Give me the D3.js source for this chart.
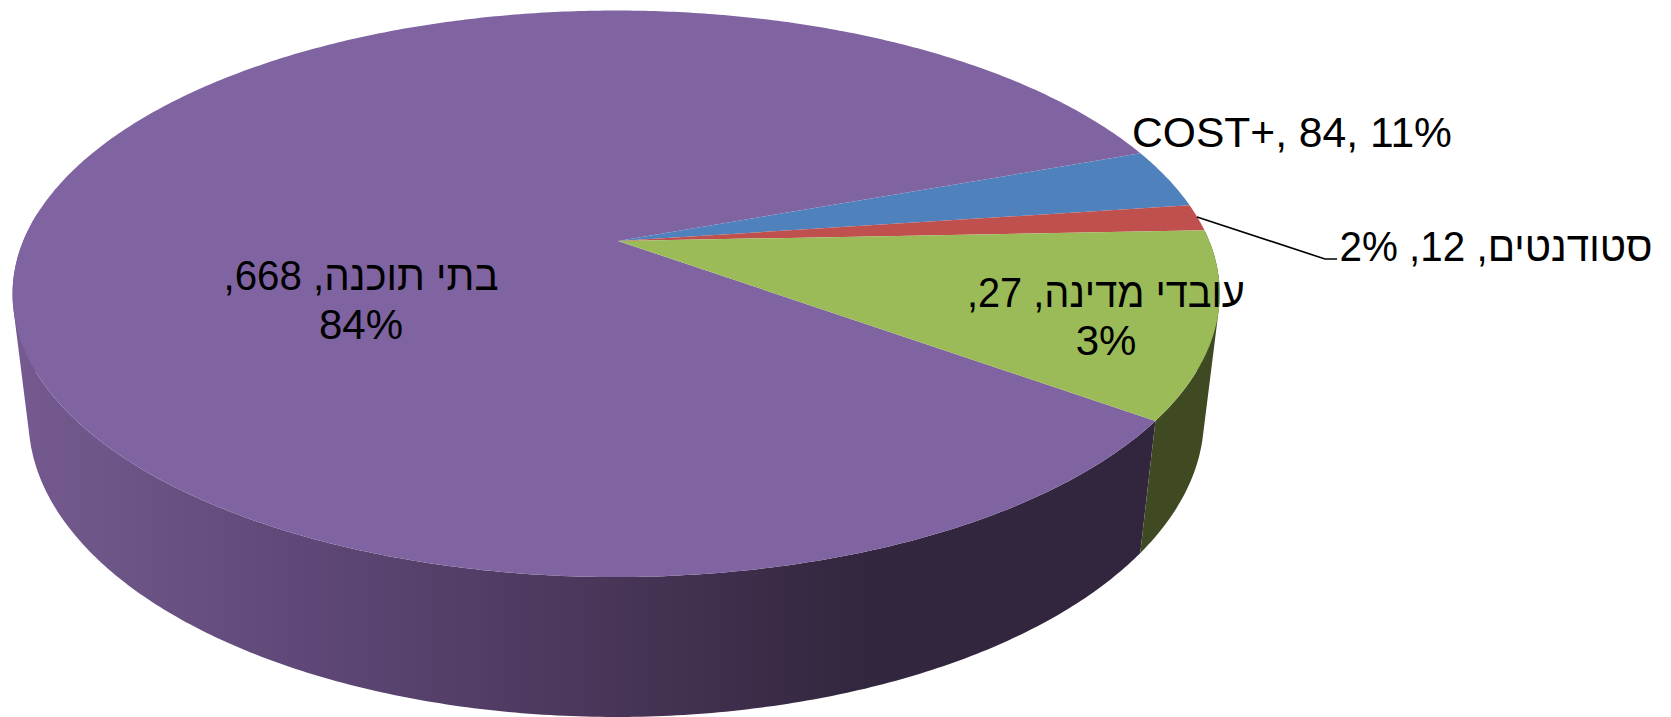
<!DOCTYPE html>
<html>
<head>
<meta charset="utf-8">
<script src="https://cdn.jsdelivr.net/npm/d3@7"></script>
<style>
  html, body { margin: 0; padding: 0; background: #fff; overflow: hidden; }
  text { font-family: "Liberation Sans", Arial, sans-serif; font-size: 42px; fill: #000; }
</style>
</head>
<body>
<script>
// Chart data. The printed labels do not follow the size of the slices in the source,
// so the slice sizes and the printed numbers are kept apart.
var categories = ["COST+", "סטודנטים", "עובדי מדינה", "בתי תוכנה"];
var sliceValues = [27, 12, 84, 668];
var labelValues = [84, 12, 27, 668];
var labelPercents = ["11%", "2%", "3%", "84%"];

var svgWidth = 1671;
var svgHeight = 717;

var topColors = ["#4F81BD", "#C0504D", "#9BBB59", "#8064A2"];
var sideColors = ["#2F4D71", "#73302E", "#3F4A22", "url(#sideGradient)"];

// Perspective of the disc: unit circle (u, v) at depth z to page pixels
var centerX = 618, centerY = 241;
var scaleU = 593, scaleV = 273.4;
var tilt = 0.1864, skew = 0.003;
var depthY = 126.2, depthW = 0.026;

function project(angle, z) {
  var u = Math.sin(angle), v = -Math.cos(angle);
  var w = 1 - tilt * v + skew * u + depthW * z;
  return [centerX + scaleU * u / w, centerY + (scaleV * v + depthY * z) / w];
}

var pie = d3.pie()
  .sort(null)
  .startAngle(70 * Math.PI / 180)
  .endAngle(430 * Math.PI / 180);
var slices = pie(sliceValues);

var svg = d3.select("body")
  .append("svg")
  .attr("width", svgWidth)
  .attr("height", svgHeight)
  .style("display", "block");

// Gradient on the purple outer wall
var gradient = svg.append("defs").append("linearGradient")
  .attr("id", "sideGradient")
  .attr("gradientUnits", "userSpaceOnUse")
  .attr("x1", 0).attr("x2", svgWidth).attr("y1", 0).attr("y2", 0);
[[20, "#75598F"], [100, "#6E5688"], [300, "#5F4878"], [600, "#493659"], [850, "#33273F"], [1160, "#32263F"]]
  .forEach(function(s) {
    gradient.append("stop").attr("offset", s[0] / svgWidth).attr("stop-color", s[1]);
  });

function arcAngles(d) {
  var steps = Math.ceil((d.endAngle - d.startAngle) / 0.01);
  return d3.range(steps + 1).map(function(i) {
    return d.startAngle + (d.endAngle - d.startAngle) * i / steps;
  });
}

// Wall: a run of quads between the top rim and the bottom rim.
// All quads are wound the same way, otherwise the slivers at the silhouette cancel out.
function wallPath(d) {
  var angles = arcAngles(d);
  var parts = [];
  for (var i = 0; i < angles.length - 1; i++) {
    var a = angles[i], b = angles[i + 1];
    if (-Math.cos((a + b) / 2) < -0.1) continue;
    var quad = [project(a, 0), project(b, 0), project(b, 1), project(a, 1)];
    if (d3.polygonArea(quad) < 0) quad.reverse();
    parts.push(d3.line()(quad) + "Z");
  }
  return parts.join("");
}

function topPath(d) {
  var points = arcAngles(d).map(function(a) { return project(a, 0); });
  points.unshift([centerX, centerY]);
  return d3.line()(points) + "Z";
}

// Walls first, purple before green so the green one sits in front at their shared edge
svg.append("g").selectAll("path")
  .data([slices[3], slices[2]])
  .enter()
  .append("path")
  .attr("d", wallPath)
  .attr("fill", function(d) { return sideColors[d.index]; });

svg.append("g").selectAll("path")
  .data([slices[3], slices[0], slices[1], slices[2]])
  .enter()
  .append("path")
  .attr("d", topPath)
  .attr("fill", function(d) { return topColors[d.index]; });

// Leader line of the small red slice
svg.append("path")
  .attr("d", d3.line()([[1197, 217], [1325, 259], [1337, 259]]))
  .attr("fill", "none")
  .attr("stroke", "#000")
  .attr("stroke-width", 1.6);

// Labels, the first line of each is fitted to the width it has in the reference
function addLabel(lines, x, baselines, dir, firstWidth) {
  lines.forEach(function(line, i) {
    var label = svg.append("text")
      .attr("x", x)
      .attr("y", baselines[i])
      .attr("text-anchor", "middle")
      .attr("direction", dir)
      .text(line);
    if (i == 0) {
      label.attr("textLength", firstWidth).attr("lengthAdjust", "spacingAndGlyphs");
    }
  });
}

addLabel([categories[0] + ", " + labelValues[0] + ", " + labelPercents[0]], 1292, [147], "ltr", 320);
addLabel([categories[1] + ", " + labelValues[1] + ", " + labelPercents[1]], 1496, [261], "rtl", 313);
addLabel([categories[2] + ", " + labelValues[2] + ",", labelPercents[2]], 1106, [307, 355], "rtl", 278);
addLabel([categories[3] + ", " + labelValues[3] + ",", labelPercents[3]], 361, [290, 339], "rtl", 275);
</script>
</body>
</html>
